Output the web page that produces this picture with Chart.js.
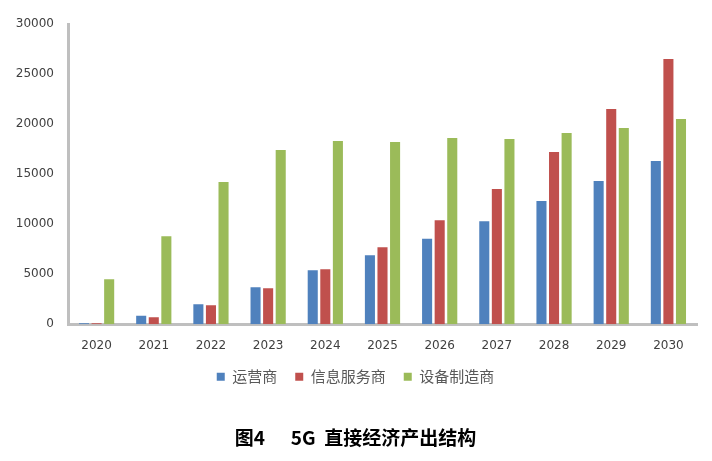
<!DOCTYPE html>
<html>
<head>
<meta charset="utf-8">
<script src="https://cdn.jsdelivr.net/npm/chart.js@4"></script>
<style>
  html, body { margin: 0; padding: 0; background: #fff; }
  #wrap { width: 712px; height: 461px; }
</style>
</head>
<body>
<div id="wrap"><canvas id="outputChart" width="712" height="461"></canvas></div>
<script>
// categories and series
const years = ['2020', '2021', '2022', '2023', '2024', '2025', '2026', '2027', '2028', '2029', '2030'];
const operators = [100, 850, 2000, 3700, 5400, 6900, 8550, 10300, 12300, 14300, 16300];
const infoServices = [100, 700, 1900, 3600, 5500, 7700, 10400, 13500, 17200, 21500, 26500];
const equipment = [4500, 8800, 14200, 17400, 18300, 18200, 18600, 18500, 19100, 19600, 20500];
const yTicks = [0, 5000, 10000, 15000, 20000, 25000, 30000];

const tickFont = { family: 'DejaVu Sans', size: 12 };

const ctx = document.getElementById('outputChart').getContext('2d');
new Chart(ctx, {
    type: 'bar',
    data: {
        labels: years,
        datasets: [
            { label: '运营商', data: operators, backgroundColor: '#4F81BD' },
            { label: '信息服务商', data: infoServices, backgroundColor: '#C0504D' },
            { label: '设备制造商', data: equipment, backgroundColor: '#9BBB59' }
        ]
    },
    options: {
        responsive: false,
        animation: false,
        devicePixelRatio: 1,
        layout: { padding: { top: 24, right: 15, left: 14, bottom: 6 } },
        datasets: { bar: { categoryPercentage: 0.66, barPercentage: 0.8 } },
        scales: {
            x: {
                grid: { display: false },
                border: { display: true, color: '#BFBFBF', width: 3 },
                ticks: { color: '#404040', font: tickFont, padding: 6 },
                afterFit: s => { s.height = 27; }
            },
            y: {
                min: 0,
                max: 30000,
                clip: false,
                grid: { display: false, drawTicks: false },
                border: { display: true, color: '#BFBFBF', width: 3 },
                afterBuildTicks: s => { s.ticks = yTicks.map(v => ({ value: v })); },
                ticks: { color: '#404040', font: tickFont, padding: 14, callback: v => String(v) },
                afterFit: s => { s.width = 54; }
            }
        },
        plugins: {
            legend: {
                position: 'bottom',
                labels: {
                    boxWidth: 8,
                    boxHeight: 8,
                    padding: 18,
                    color: '#595959',
                    font: { family: 'Noto Sans CJK SC', size: 15 }
                }
            },
            title: {
                display: true,
                position: 'bottom',
                text: '图4      5G  直接经济产出结构',
                color: '#000',
                font: { family: 'Noto Sans CJK SC', size: 19, weight: 'bold' },
                padding: { top: 32, bottom: 6 }
            },
            tooltip: { enabled: false }
        }
    }
});
</script>
</body>
</html>
